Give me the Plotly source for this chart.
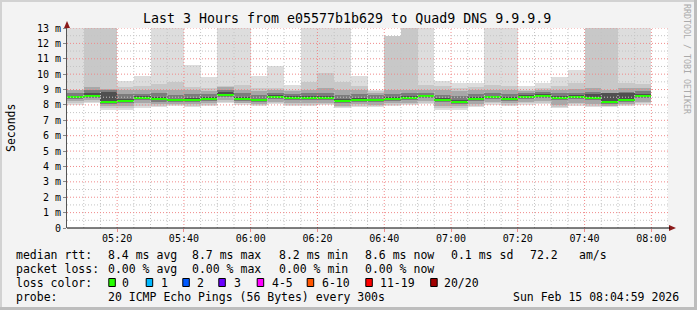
import plotly.graph_objects as go
import pandas as pd

# ---------------- data ----------------
bar_starts = pd.date_range("2026-02-15 05:05:00", periods=35, freq="5min")
step_ms = 300000

median = [8.51, 8.58, 8.20, 8.28, 8.45, 8.39, 8.32, 8.32, 8.39, 8.67, 8.39, 8.32, 8.54, 8.45, 8.45,
          8.45, 8.28, 8.32, 8.32, 8.39, 8.45, 8.58, 8.32, 8.19, 8.39, 8.51, 8.39, 8.54, 8.58, 8.45,
          8.54, 8.45, 8.20, 8.32, 8.58]
ping_max = [14.0, 14.0, 14.0, 9.55, 9.87, 14.0, 14.0, 10.59, 9.83, 14.0, 14.0, 9.90, 10.55, 9.30, 14.0,
            14.0, 14.0, 9.90, 9.00, 12.48, 14.0, 14.0, 9.55, 9.45, 9.40, 14.0, 14.0, 9.25, 9.45, 9.83,
            10.26, 14.0, 14.0, 14.0, 14.0]
ping_min = [8.00, 8.10, 7.70, 7.67, 7.78, 7.84, 7.93, 7.84, 7.93, 8.10, 8.00, 7.90, 8.06, 7.93, 7.93,
            8.00, 7.78, 7.84, 7.84, 7.93, 8.00, 8.06, 7.70, 7.70, 7.84, 8.00, 7.93, 8.00, 8.06, 7.78,
            7.93, 7.84, 7.84, 7.93, 8.00]
p2_hi = [9.00, 14.0, 14.0, 9.19, 9.20, 9.35, 9.50, 9.15, 9.10, 9.20, 9.30, 9.10, 9.10, 9.00, 9.50,
         10.10, 9.50, 9.20, 8.90, 12.48, 14.0, 9.30, 9.20, 9.10, 9.15, 9.30, 9.25, 9.00, 9.10, 9.25,
         9.40, 14.0, 14.0, 9.40, 9.35]
p2_lo = [8.12, 8.20, 7.80, 7.78, 7.90, 7.95, 8.02, 7.95, 8.02, 8.22, 8.10, 8.00, 8.15, 8.02, 8.02,
         8.08, 7.88, 7.95, 7.92, 8.02, 8.08, 8.15, 7.82, 7.80, 7.95, 8.10, 8.02, 8.10, 8.15, 7.88,
         8.03, 7.95, 7.90, 8.00, 8.10]
p4_hi = [8.95, 9.15, 9.05, 8.95, 8.95, 9.00, 8.95, 8.95, 8.90, 9.15, 9.00, 8.90, 8.95, 8.90, 9.00,
         9.10, 8.95, 8.95, 8.80, 8.95, 9.00, 9.00, 8.95, 8.90, 8.95, 9.00, 9.00, 8.90, 9.00, 9.00,
         9.05, 9.10, 9.00, 9.10, 9.10]
p4_lo = [8.25, 8.30, 7.90, 7.90, 8.10, 8.05, 8.05, 8.05, 8.10, 8.30, 8.15, 8.05, 8.20, 8.10, 8.10,
         8.15, 7.95, 8.05, 8.00, 8.10, 8.15, 8.25, 7.95, 7.90, 8.05, 8.20, 8.10, 8.20, 8.25, 8.00,
         8.15, 8.05, 7.95, 8.05, 8.20]
p7_hi = [8.75, 9.00, 8.95, 8.70, 8.70, 8.75, 8.65, 8.70, 8.70, 9.00, 8.75, 8.65, 8.80, 8.70, 8.75,
         8.80, 8.65, 8.70, 8.65, 8.70, 8.75, 8.80, 8.65, 8.55, 8.70, 8.80, 8.70, 8.80, 8.85, 8.75,
         8.80, 8.85, 8.80, 8.85, 8.90]
p7_lo = [8.40, 8.45, 8.05, 8.10, 8.30, 8.20, 8.20, 8.20, 8.25, 8.50, 8.25, 8.20, 8.40, 8.30, 8.30,
         8.30, 8.10, 8.20, 8.20, 8.25, 8.30, 8.45, 8.20, 8.05, 8.25, 8.40, 8.25, 8.40, 8.45, 8.30,
         8.40, 8.30, 8.05, 8.20, 8.45]
p9_hi = [8.60, 8.80, 8.85, 8.40, 8.55, 8.50, 8.40, 8.45, 8.50, 8.85, 8.50, 8.40, 8.65, 8.55, 8.55,
         8.60, 8.40, 8.45, 8.40, 8.50, 8.55, 8.65, 8.45, 8.30, 8.50, 8.60, 8.50, 8.65, 8.70, 8.55,
         8.65, 8.70, 8.75, 8.75, 8.70]
p9_lo = [8.45, 8.52, 8.15, 8.20, 8.38, 8.30, 8.27, 8.27, 8.32, 8.60, 8.32, 8.26, 8.48, 8.38, 8.38,
         8.38, 8.20, 8.26, 8.26, 8.32, 8.38, 8.52, 8.26, 8.12, 8.32, 8.45, 8.32, 8.48, 8.52, 8.38,
         8.48, 8.38, 8.12, 8.25, 8.52]

y_tick_vals = list(range(0, 14))
y_tick_text = ["0"] + [f"{v} m" for v in range(1, 14)]
x_tick_vals = pd.date_range("2026-02-15 05:20", "2026-02-15 08:00", freq="20min")

loss_labels = ["0", "1", "2", "3", "4-5", "6-10", "11-19", "20/20"]
loss_colors = ["#26ff00", "#00b8ff", "#0059ff", "#6a00ff", "#ff00ff", "#ff5500", "#ff0000", "#a10000"]

title = "Last 3 Hours from e05577b1b629 to Quad9 DNS 9.9.9.9"
rtt_items = ["8.4 ms avg", "8.7 ms max", "8.2 ms min", "8.6 ms now", "0.1 ms sd", "72.2", "am/s"]
loss_items = ["0.00 % avg", "0.00 % max", "0.00 % min", "0.00 % now"]
probe_text = "20 ICMP Echo Pings (56 Bytes) every 300s"
date_text = "Sun Feb 15 08:04:59 2026"

# ---------------- geometry helpers (pixel -> paper) ----------------
W, H = 697, 310
PL, PR, PT, PB = 67, 668, 28, 228
def px(x):
    return (x - PL) / (PR - PL)
def py(y):
    return (PB - y) / (PB - PT)

MONO = "DejaVu Sans Mono"
centers = bar_starts + pd.Timedelta(seconds=150)

fig = go.Figure()
layers = [
    (ping_min, ping_max, "#dddddd"),
    (p2_lo, p2_hi, "#c8c8c8"),
    (p4_lo, p4_hi, "#a8a8a8"),
    (p7_lo, p7_hi, "#7c7c7c"),
    (p9_lo, p9_hi, "#505050"),
]
for lo, hi, col in layers:
    fig.add_trace(go.Bar(
        x=centers, base=lo, y=[h - l for h, l in zip(hi, lo)], width=step_ms,
        marker=dict(color=col, line=dict(width=0)), hoverinfo="skip", showlegend=False))

fig.add_trace(go.Bar(
    x=centers, base=[m - 0.07 for m in median], y=[0.14] * len(median), width=step_ms,
    marker=dict(color="#26ff00", line=dict(width=0)), hoverinfo="skip", showlegend=False))

shapes = []
# grid lines (drawn above the smoke like rrdtool)
for t in pd.date_range("2026-02-15 05:10", "2026-02-15 08:05", freq="5min"):
    red = (t.minute % 20 == 0)
    shapes.append(dict(type="line", xref="x", yref="paper", x0=t, x1=t, y0=0, y1=1, layer="above",
                       line=dict(color="#f08a8a" if red else "#c4c4c4", width=1, dash="1px,2px")))
for i in range(1, 27):
    v = i * 0.5
    red = (i % 2 == 0)
    shapes.append(dict(type="line", xref="paper", yref="y", x0=0, x1=1, y0=v, y1=v, layer="above",
                       line=dict(color="#f08a8a" if red else "#c4c4c4", width=1, dash="1px,2px")))

# axis arrows
shapes.append(dict(type="path", xref="paper", yref="paper", layer="above",
                   path=f"M {px(64)} {py(28)} L {px(70)} {py(28)} L {px(67)} {py(21)} Z",
                   fillcolor="#8b1a1a", line=dict(width=0)))
shapes.append(dict(type="path", xref="paper", yref="paper", layer="above",
                   path=f"M {px(669)} {py(225)} L {px(669)} {py(231)} L {px(676)} {py(228)} Z",
                   fillcolor="#8b1a1a", line=dict(width=0)))
shapes.append(dict(type="line", xref="paper", yref="paper", layer="above",
                   x0=px(67), x1=px(670), y0=0, y1=0, line=dict(color="#000000", width=1)))

# frame of the picture
shapes.append(dict(type="rect", xref="paper", yref="paper", x0=px(0), x1=px(697), y0=py(0), y1=py(2),
                   fillcolor="#d2d2d2", line=dict(width=0), layer="below"))
shapes.append(dict(type="rect", xref="paper", yref="paper", x0=px(0), x1=px(2), y0=py(0), y1=py(310),
                   fillcolor="#d2d2d2", line=dict(width=0), layer="below"))
shapes.append(dict(type="rect", xref="paper", yref="paper", x0=px(0), x1=px(697), y0=py(307), y1=py(310),
                   fillcolor="#bdbdbd", line=dict(width=0), layer="below"))
shapes.append(dict(type="rect", xref="paper", yref="paper", x0=px(694), x1=px(697), y0=py(0), y1=py(310),
                   fillcolor="#bdbdbd", line=dict(width=0), layer="below"))

annotations = []
def text(x, y, s, size=11.5, color="#000000", anchor="left", angle=0):
    annotations.append(dict(xref="paper", yref="paper", x=px(x), y=py(y), text=s, showarrow=False,
                            xanchor=anchor, yanchor="middle", textangle=angle,
                            borderpad=0, borderwidth=0,
                            font=dict(family=MONO, size=size, color=color)))

# y-axis title and rrdtool credit
text(11, 128, "Seconds", size=11.5, anchor="center", angle=-90)
text(687, 59, "RRDTOOL / TOBI OETIKER", size=8.3, color="#aaaaaa", anchor="center", angle=90)

# legend block
L1, L2, L3, L4 = 254.5, 268.5, 282.5, 296.5
text(16, L1, "median rtt:")
for xpos, s in zip([107.6, 192.4, 279.1, 364.9, 451.1, 530.2, 579.1], rtt_items):
    text(xpos, L1, s)
text(16, L2, "packet loss:")
for xpos, s in zip([107.6, 192.4, 279.1, 364.9], loss_items):
    text(xpos, L2, s)
text(16, L3, "loss color:")
box_x = [108.3, 145.7, 182.3, 218.3, 256.7, 306.7, 365.3, 430.2]
lab_x = [121.7, 161.0, 196.7, 234.3, 271.7, 321.7, 379.6, 444.4]
for bx, lx, lab, col in zip(box_x, lab_x, loss_labels, loss_colors):
    shapes.append(dict(type="rect", xref="paper", yref="paper", x0=px(bx + 0.5), x1=px(bx + 7),
                       y0=py(278.5), y1=py(286.5), fillcolor=col, line=dict(color="#000000", width=1),
                       layer="above"))
    text(lx, L3, lab)
text(16, L4, "probe:")
text(107.6, L4, probe_text)
text(513.3, L4, date_text)

fig.update_layout(
    width=W, height=H,
    margin=dict(l=PL, r=W - PR, t=PT, b=H - PB, pad=0),
    paper_bgcolor="#f3f3f3", plot_bgcolor="#ffffff",
    barmode="overlay", bargap=0, showlegend=False,
    title=dict(text=title, x=0.498, xanchor="center", y=1 - 18.5 / H, yanchor="middle",
               font=dict(family=MONO, size=13.3, color="#000000")),
    xaxis=dict(type="date",
               range=[pd.Timestamp("2026-02-15 05:04:59"), pd.Timestamp("2026-02-15 08:04:59")],
               tickvals=x_tick_vals, tickformat="%H:%M", showgrid=False, zeroline=False,
               showline=False, ticks="outside", ticklen=3, tickcolor="#f08a8a",
               ticklabelstandoff=-2,
               tickfont=dict(family=MONO, size=10, color="#000000"), fixedrange=True),
    yaxis=dict(range=[0, 13], tickvals=y_tick_vals, ticktext=y_tick_text, showgrid=False,
               zeroline=False, showline=True, linecolor="#555555", linewidth=1,
               ticks="outside", ticklen=3, tickcolor="#888888",
               tickfont=dict(family=MONO, size=10, color="#000000"), fixedrange=True),
    shapes=shapes, annotations=annotations,
)

fig.write_html("out.html")
